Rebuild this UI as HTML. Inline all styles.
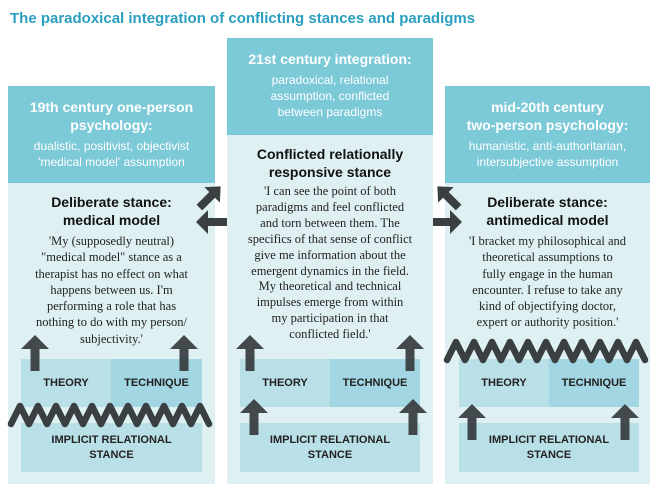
<!DOCTYPE html>
<html><head><meta charset="utf-8"><style>
*{margin:0;padding:0;box-sizing:border-box}
body{width:657px;height:488px;background:#fff;font-family:"Liberation Sans",sans-serif;position:relative;overflow:hidden}
.a{position:absolute}
.hd{background:#7cc9d7;color:#fff;text-align:center}
.bd{background:#dff0f3}
.t{font-weight:bold;font-size:14px;line-height:18px}
.s{font-size:12px;line-height:16px}
.h2{font-weight:bold;font-size:14px;line-height:18px;color:#111;text-align:center}
.q{font-family:"Liberation Serif",serif;font-size:12.5px;line-height:16.3px;color:#222;text-align:center}
.th{background:#b9dfe7;font-weight:bold;font-size:11px;color:#222;display:flex;align-items:center;justify-content:center;text-align:center;line-height:15px}
.tq{background:#a1d6e2}
</style></head><body>
<div class="a" style="left:10px;top:10px;font-size:15px;font-weight:bold;color:#2a9fbf">The paradoxical integration of conflicting stances and paradigms</div>

<div class="a bd" style="left:8px;top:86px;width:207px;height:398px"></div>
<div class="a bd" style="left:227px;top:38px;width:206px;height:446px"></div>
<div class="a bd" style="left:445px;top:86px;width:205px;height:398px"></div>

<div class="a hd" style="left:8px;top:86px;width:207px;height:97px;padding-top:12px"><div class="t">19th century one-person<br>psychology:</div><div class="s" style="margin-top:4px">dualistic, positivist, objectivist<br>'medical model' assumption</div></div>
<div class="a hd" style="left:227px;top:38px;width:206px;height:97px;padding-top:12px"><div class="t">21st century integration:</div><div class="s" style="margin-top:4px">paradoxical, relational<br>assumption, conflicted<br>between paradigms</div></div>
<div class="a hd" style="left:445px;top:86px;width:205px;height:97px;padding-top:12px"><div class="t">mid-20th century<br>two-person psychology:</div><div class="s" style="margin-top:4px">humanistic, anti-authoritarian,<br>intersubjective assumption</div></div>

<div class="a" style="left:8px;top:193px;width:207px"><div class="h2">Deliberate stance:<br>medical model</div><div class="q" style="margin-top:4px">'My (supposedly neutral)<br>"medical model" stance as a<br>therapist has no effect on what<br>happens between us. I'm<br>performing a role that has<br>nothing to do with my person/<br>subjectivity.'</div></div>
<div class="a" style="left:227px;top:145px;width:206px"><div class="h2">Conflicted relationally<br>responsive stance</div><div class="q" style="margin-top:3px;line-height:15.9px">'I can see the point of both<br>paradigms and feel conflicted<br>and torn between them. The<br>specifics of that sense of conflict<br>give me information about the<br>emergent dynamics in the field.<br>My theoretical and technical<br>impulses emerge from within<br>my participation in that<br>conflicted field.'</div></div>
<div class="a" style="left:445px;top:193px;width:205px"><div class="h2">Deliberate stance:<br>antimedical model</div><div class="q" style="margin-top:4px">'I bracket my philosophical and<br>theoretical assumptions to<br>fully engage in the human<br>encounter. I refuse to take any<br>kind of objectifying doctor,<br>expert or authority position.'</div></div>

<div class="a th" style="left:21px;top:359px;width:90px;height:48px">THEORY</div>
<div class="a th tq" style="left:111px;top:359px;width:91px;height:48px">TECHNIQUE</div>
<div class="a th" style="left:21px;top:423px;width:181px;height:49px">IMPLICIT RELATIONAL<br>STANCE</div>
<div class="a th" style="left:240px;top:359px;width:90px;height:48px">THEORY</div>
<div class="a th tq" style="left:330px;top:359px;width:90px;height:48px">TECHNIQUE</div>
<div class="a th" style="left:240px;top:423px;width:180px;height:49px">IMPLICIT RELATIONAL<br>STANCE</div>
<div class="a th" style="left:459px;top:359px;width:90px;height:48px">THEORY</div>
<div class="a th tq" style="left:549px;top:359px;width:90px;height:48px">TECHNIQUE</div>
<div class="a th" style="left:459px;top:423px;width:180px;height:49px">IMPLICIT RELATIONAL<br>STANCE</div>

<svg class="a" style="left:0;top:0" width="657" height="488">
<defs>
<g id="up"><path d="M0,-19 L-14,-5 L-4.5,-5 L-4.5,17 L4.5,17 L4.5,-5 L14,-5 Z" fill="#3a3f42" opacity="0.95"/></g>
</defs>
<g stroke="#3a3f42" stroke-width="6.5" fill="none" stroke-linejoin="round" stroke-linecap="round">
<polyline points="11,424 20,406 29,424 38,406 47,424 56,406 65,424 74,406 83,424 92,406 101,424 110,406 119,424 128,406 137,424 146,406 155,424 164,406 173,424 182,406 191,424 200,406 209,424"/>
<polyline points="447,360 456,342 465,360 474,342 483,360 492,342 501,360 510,342 519,360 528,342 537,360 546,342 555,360 564,342 573,360 582,342 591,360 600,342 609,360 618,342 627,360 636,342 645,360"/>
</g>
<use href="#up" x="35" y="354"/>
<use href="#up" x="184" y="354"/>
<use href="#up" x="250" y="354"/>
<use href="#up" x="410" y="354"/>
<use href="#up" x="254" y="418"/>
<use href="#up" x="413" y="418"/>
<use href="#up" x="472" y="423"/>
<use href="#up" x="625" y="423"/>
<g fill="#3a3f42">
<path d="M196,222 L208,210 L208,218 L227,218 L227,226 L208,226 L208,234 Z"/>
<path d="M462,222 L450,210 L450,218 L433,218 L433,226 L450,226 L450,234 Z"/>
<g transform="translate(210,197) rotate(45)"><path d="M0,-15 L-11,-3 L-4,-3 L-4,15 L4,15 L4,-3 L11,-3 Z"/></g>
<g transform="translate(448,197) rotate(-45)"><path d="M0,-15 L-11,-3 L-4,-3 L-4,15 L4,15 L4,-3 L11,-3 Z"/></g>
</g>
</svg>
</body></html>
